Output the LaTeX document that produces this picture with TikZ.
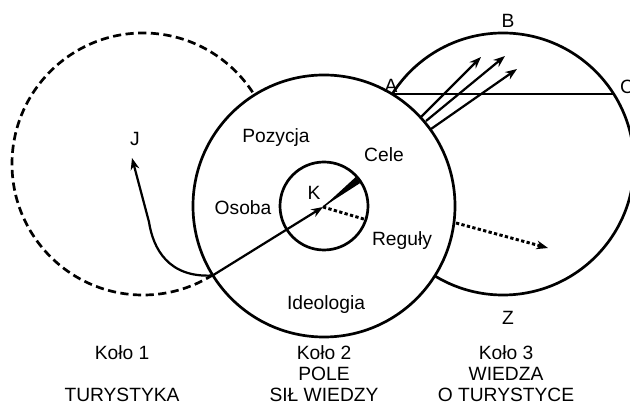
\documentclass[tikz,border=0pt]{standalone}
\usepackage{fontspec}
\setmainfont{Liberation Sans}
\usetikzlibrary{arrows.meta,calc}

\begin{document}
\begin{tikzpicture}[
  x=0.03cm, y=-0.03cm,
  kolo/.style={draw, circle, minimum size=7.86cm, inner sep=0pt, line width=2.3pt},
  lbl/.style={font=\fontsize{16.4}{17.9}\selectfont, inner sep=0pt},
  podpis/.style={lbl, align=center},
  arr/.style={-{Stealth[length=10pt,width=7.5pt]}, line width=1.9pt},
  kropki/.style={line width=2.5pt, dash pattern=on 2.8pt off 2pt},
  >=Stealth
]
\clip (0,0) rectangle (630,405);

% the three fields; circle 2 is filled white so it hides the others
\node[kolo, dash pattern=on 7pt off 3.8pt] (kolo1) at (143,164) {};
\node[kolo] (kolo3) at (503,164) {};
\node[kolo, fill=white] (kolo2) at (324,206) {};
\node[draw, circle, minimum size=2.64cm, inner sep=0pt, line width=2.3pt] (rdzen) at (324,206) {};

\coordinate (x12) at (212.6,275.5);
\coordinate (kc) at (323,207);
\coordinate (jt) at (132,158);
\coordinate (kw) at (358,180);
\coordinate (kd) at (367,220);
\coordinate (A) at (392.2,94);
\coordinate (C) at (613.7,94);

\draw[line width=1.9pt] (A) -- (C);

\draw[arr] (x12) -- (kc);
\draw[arr] (x12) .. controls (168,278) and (153,248) .. (149,222) -- (jt);

% K: wedge towards Cele, dots towards Reguly
\draw[line width=1.3pt] (kc) -- (kw);
\fill (kc) -- ($(kw)!3.2pt!90:(kc)$) -- ($(kw)!3.2pt!-90:(kc)$) -- cycle;
\draw[kropki] (kc) -- (kd);

\coordinate (r2) at (456,223);
\coordinate (r3) at (548,248);
\draw[kropki, arr, line width=2.5pt] (r2) -- (r3);

\coordinate (s1) at (421,117);
\coordinate (s2) at (426,121);
\coordinate (s3) at (431,129);
\coordinate (e1) at (481,57);
\coordinate (e2) at (505,56);
\coordinate (e3) at (517,69);
\draw[arr] (s1) -- (e1);
\draw[arr] (s2) -- (e2);
\draw[arr] (s3) -- (e3);

\node[lbl] (j) at (135,139) {J};
\node[lbl] (pozycja) at (276,138) {Pozycja};
\node[lbl] (cele) at (384,155) {Cele};
\node[lbl] (osoba) at (243,208) {Osoba};
\node[lbl] (k) at (314,193) {K};
\node[lbl] (reguly) at (402,241) {Reguły};
\node[lbl] (ideologia) at (326,305) {Ideologia};
\node[lbl] (a) at (391,86) {A};
\node[lbl] (b) at (508,21) {B};
\node[lbl] (c) at (627,87) {C};
\node[lbl] (z) at (508,318) {Z};

\node[podpis] (opis1) at (122,374) {Koło 1\\[17.9pt]TURYSTYKA};
\node[podpis] (opis2) at (324,374) {Koło 2\\POLE\\SIŁ WIEDZY};
\node[podpis] (opis3) at (506,374) {Koło 3\\WIEDZA\\O TURYSTYCE};
\end{tikzpicture}
\end{document}
